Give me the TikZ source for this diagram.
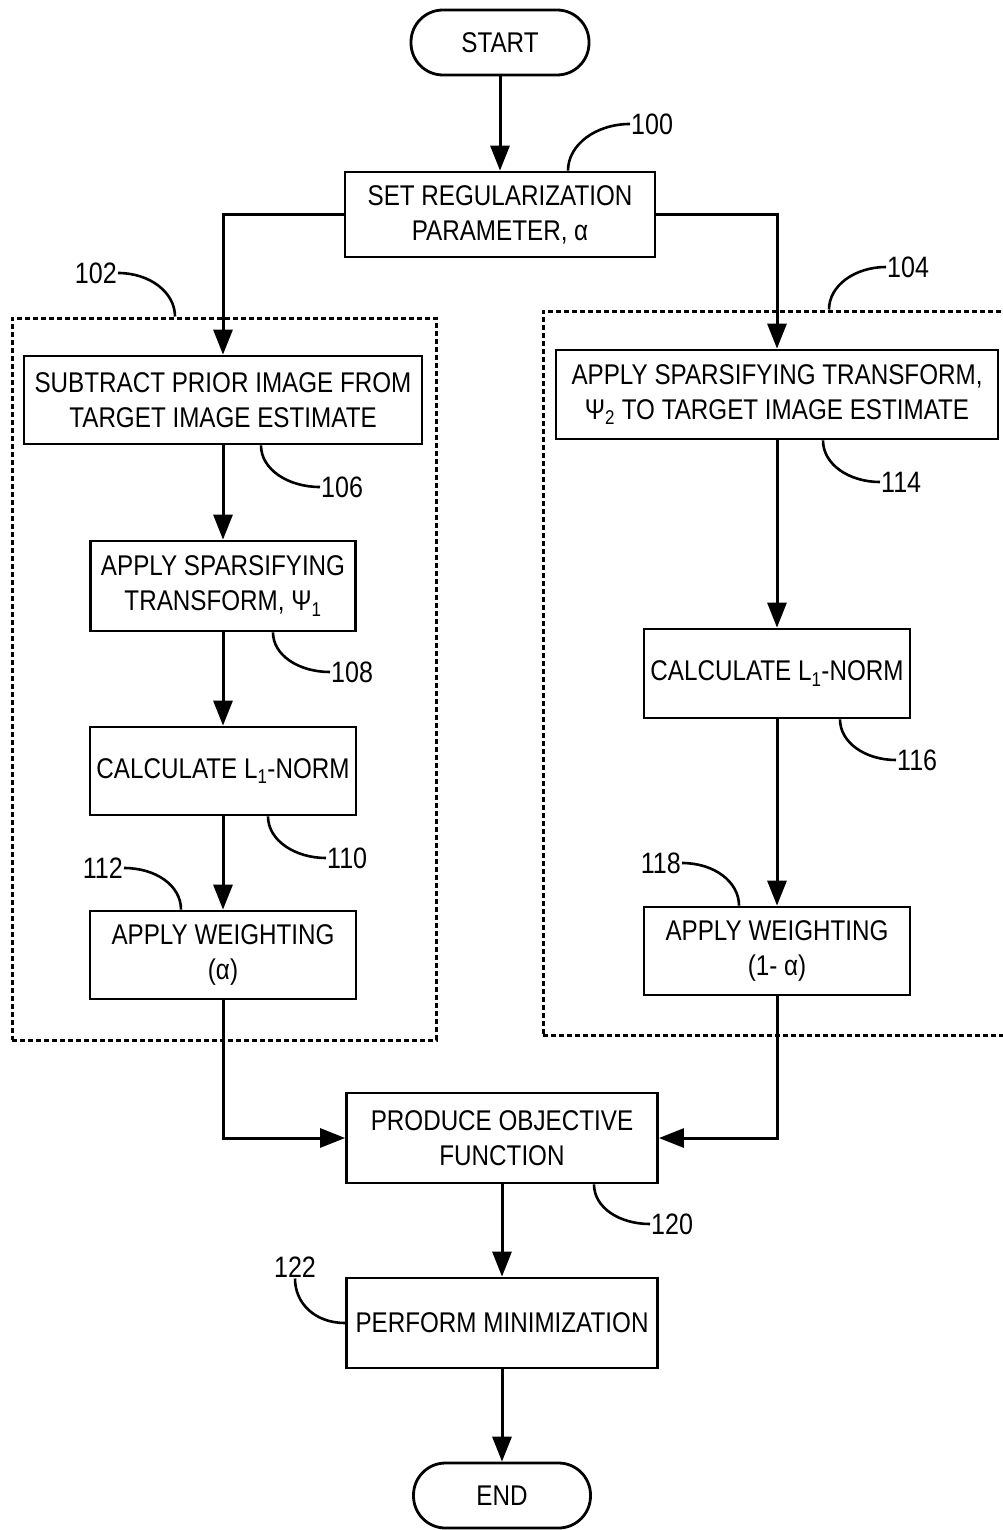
\documentclass[tikz,border=0pt]{standalone}
\usepackage{fontspec}
\setmainfont{Liberation Sans}[FakeStretch=0.85]
\usetikzlibrary{arrows.meta}
\begin{document}
\begin{tikzpicture}[x=1pt,y=-1pt,
 box/.style={draw, line width=2.8pt, rectangle, align=center, inner sep=0pt, font=\fontsize{28.5}{35}\selectfont},
 term/.style={box, rounded corners=32pt},
 arr/.style={line width=3pt, -{Triangle[length=25pt,width=19pt]}},
 lead/.style={line width=2.6pt},
 lbl/.style={inner sep=1pt, font=\fontsize{29.5}{35}\selectfont},
 grp/.style={draw, line width=3pt, dash pattern=on 5pt off 3pt, rectangle, inner sep=0pt}]
\useasboundingbox (0,0) rectangle (1003,1530);

% group boxes
\node[grp, minimum width=424pt, minimum height=722pt] (g102) at (224,679) {};
\begin{scope}
\clip (0,0) rectangle (1003,1530);
\node[grp, minimum width=487pt, minimum height=724pt] (g104) at (786.5,673) {};
\end{scope}

% nodes
\node[term, minimum width=178pt, minimum height=65pt] (start) at (500,42.5) {START};
\node[box, minimum width=310pt, minimum height=85pt] (n100) at (500,214.5) {SET REGULARIZATION\\PARAMETER, α};
\node[box, minimum width=398pt, minimum height=88pt] (n106) at (223,400) {SUBTRACT PRIOR IMAGE FROM\\TARGET IMAGE ESTIMATE};
\node[box, minimum width=265pt, minimum height=90pt] (n108) at (223,586) {APPLY SPARSIFYING\\TRANSFORM, Ψ\textsubscript{1}};
\node[box, minimum width=266pt, minimum height=88pt] (n110) at (223,771) {CALCULATE L\textsubscript{1}-NORM};
\node[box, minimum width=266pt, minimum height=88pt] (n112) at (223,955) {APPLY WEIGHTING\\(α)};
\node[box, minimum width=442pt, minimum height=89pt] (n114) at (777,394.5) {APPLY SPARSIFYING TRANSFORM,\\Ψ\textsubscript{2} TO TARGET IMAGE ESTIMATE};
\node[box, minimum width=266pt, minimum height=89pt] (n116) at (777,673.5) {CALCULATE L\textsubscript{1}-NORM};
\node[box, minimum width=266pt, minimum height=88pt] (n118) at (777,951) {APPLY WEIGHTING\\(1- α)};
\node[box, minimum width=311pt, minimum height=90pt] (n120) at (502,1138) {PRODUCE OBJECTIVE\\FUNCTION};
\node[box, minimum width=311pt, minimum height=90pt] (n122) at (502,1323) {PERFORM MINIMIZATION};
\node[term, minimum width=177pt, minimum height=65pt] (end) at (502,1495.5) {END};

% labels
\node[lbl, anchor=west] (l100) at (630,124) {100};
\node[lbl, anchor=east] (l102) at (118,273) {102};
\node[lbl, anchor=west] (l104) at (886,267) {104};
\node[lbl, anchor=west] (l106) at (320,487) {106};
\node[lbl, anchor=west] (l108) at (330,672) {108};
\node[lbl, anchor=west] (l110) at (326,858) {110};
\node[lbl, anchor=east] (l112) at (124,868) {112};
\node[lbl, anchor=west] (l114) at (880,482) {114};
\node[lbl, anchor=west] (l116) at (896,760) {116};
\node[lbl, anchor=east] (l118) at (682,863) {118};
\node[lbl, anchor=west] (l120) at (650,1224) {120};
\node[lbl] (l122) at (295,1267) {122};

% connectors
\draw[arr] (start) -- (n100);
\draw[arr] (n100.west) -| (n106.north);
\draw[arr] (n100.east) -| (n114.north);
\draw[arr] (n106) -- (n108);
\draw[arr] (n108) -- (n110);
\draw[arr] (n110) -- (n112);
\draw[arr] (n114) -- (n116);
\draw[arr] (n116) -- (n118);
\draw[arr] (n112.south) |- (n120.west);
\draw[arr] (n118.south) |- (n120.east);
\draw[arr] (n120) -- (n122);
\draw[arr] (n122) -- (end);

% leaders
\draw[lead] ([xshift=68pt]n100.north) .. controls +(0,-26) and +(-34,0) .. (l100.west);
\draw[lead] (l102.east) .. controls +(32,0) and +(0,-24) .. ([xshift=-49pt]g102.north);
\draw[lead] ([xshift=42.5pt]g104.north) .. controls +(0,-24) and +(-31,0) .. (l104.west);
\draw[lead] ([xshift=38pt]n106.south) .. controls +(0,24) and +(-32,0) .. (l106.west);
\draw[lead] ([xshift=50pt]n108.south) .. controls +(0,23) and +(-31,0) .. (l108.west);
\draw[lead] ([xshift=45pt]n110.south) .. controls +(0,24) and +(-31,0) .. (l110.west);
\draw[lead] (l112.east) .. controls +(32,0) and +(0,-24) .. ([xshift=-42pt]n112.north);
\draw[lead] ([xshift=46pt]n114.south) .. controls +(0,24) and +(-31,0) .. (l114.west);
\draw[lead] ([xshift=63pt]n116.south) .. controls +(0,23) and +(-31,0) .. (l116.west);
\draw[lead] (l118.east) .. controls +(32,0) and +(0,-24) .. ([xshift=-38pt]n118.north);
\draw[lead] ([xshift=92pt]n120.south) .. controls +(0,23) and +(-31,0) .. (l120.west);
\draw[lead] (l122.south) .. controls +(0,25) and +(-30,0) .. (n122.west);
\end{tikzpicture}
\end{document}
